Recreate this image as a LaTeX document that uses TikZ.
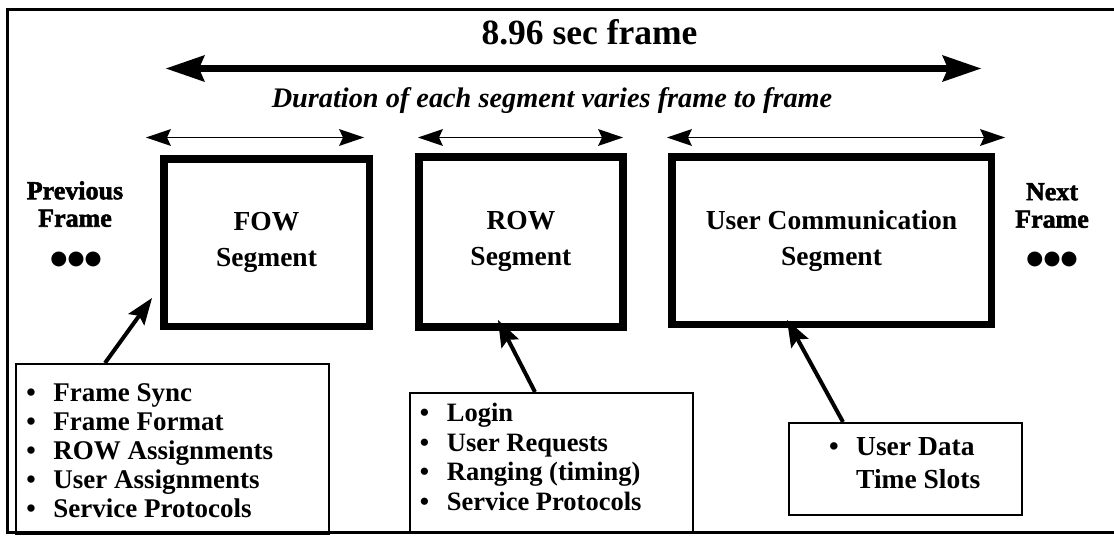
\documentclass[tikz,border=0pt]{standalone}
\usepackage{fontspec}
\setmainfont{Liberation Serif}
\newfontfamily\heavyfont{Liberation Serif}[BoldFeatures={FakeBold=2}]
\newfontfamily\dotfont{DejaVu Sans}
\usetikzlibrary{arrows.meta,calc}
\tikzset{
  seg/.style={draw, line width=7.5pt, inner sep=0pt, align=center,
    font=\bfseries\fontsize{27.5}{36}\selectfont},
  listbox/.style={draw, line width=1.5pt, inner sep=0pt, anchor=north west},
  listtext/.style={inner sep=0pt, align=left, anchor=north west},
  ptr/.style={line width=4pt, -{Stealth[length=27pt, width=20pt, inset=5pt, line width=0pt]}},
  dimsmall/.style={line width=1.8pt,
    {Stealth[length=25pt, width=17pt, inset=4pt, line width=0pt]}-{Stealth[length=25pt, width=17pt, inset=4pt, line width=0pt]}},
  dimbig/.style={line width=7pt,
    {Stealth[length=39pt, width=27pt, inset=6pt, line width=0pt]}-{Stealth[length=39pt, width=27pt, inset=6pt, line width=0pt]}},
  frametext/.style={inner sep=0pt, align=center, anchor=north,
    font=\heavyfont\bfseries\fontsize{26}{27.5}\selectfont},
  dots/.style={inner sep=0pt, font=\dotfont\fontsize{19.5}{19.5}\selectfont},
}
\newcommand{\itm}[1]{\makebox[27pt][l]{\textbullet}#1}
\begin{document}
\begin{tikzpicture}[x=1pt,y=-1pt]
\useasboundingbox (0,0) rectangle (1114,536);
% outer frame
\draw[line width=2.5pt] (1114,9.5) -- (7.5,9.5) -- (7.5,532.5) -- (1114,532.5);

% title and overall frame arrow
\node[inner sep=0pt, anchor=base, font=\bfseries\fontsize{35.5}{40}\selectfont] (title) at (589.5,44) {8.96 sec frame};
\coordinate (bigL) at (166,68.5);
\coordinate (bigR) at (981,68.5);
\draw[dimbig] (bigL) -- (bigR);
\node[inner sep=0pt, anchor=base, font=\bfseries\itshape\fontsize{28.3}{32}\selectfont] (sub) at (552,107) {Duration of each segment varies frame to frame};

% segments
\node[seg, minimum width=205.5pt, minimum height=167.5pt] (fow) at (266.5,242.5) {FOW\\Segment};
\node[seg, minimum width=204.25pt, minimum height=170.25pt] (row) at (520.9,241.9) {ROW\\Segment};
\node[seg, minimum width=319.5pt, minimum height=167.5pt] (ucs) at (831.5,240.5) {User Communication\\Segment};

% segment duration arrows
\coordinate (s1l) at (146,137.5); \coordinate (s1r) at (364,137.5);
\coordinate (s2l) at (418,137.5); \coordinate (s2r) at (623,137.5);
\coordinate (s3l) at (667,137.5); \coordinate (s3r) at (1005,137.5);
\draw[dimsmall] (s1l) -- (s1r);
\draw[dimsmall] (s2l) -- (s2r);
\draw[dimsmall] (s3l) -- (s3r);

% previous / next frame
\node[frametext] (prev) at (75,181) {Previous\\Frame};
\node[dots] (prevdots) at (76,259) {●●●};
\node[frametext] (next) at (1052,183) {Next\\Frame};
\node[dots] (nextdots) at (1052,259) {●●●};

% lists
\node[listbox, minimum width=313pt, minimum height=170pt] (lbox) at (15,363) {};
\node[listtext, font=\bfseries\fontsize{27}{29.2}\selectfont] (ltxt) at (26.3,383)
  {\itm{Frame Sync}\\ \itm{Frame Format}\\ \itm{ROW Assignments}\\ \itm{User Assignments}\\ \itm{Service Protocols}};
\node[listbox, minimum width=283pt, minimum height=139pt] (mbox) at (409,392) {};
\node[listtext, font=\bfseries\fontsize{26.5}{29.7}\selectfont] (mtxt) at (419.7,403)
  {\itm{Login}\\ \itm{User Requests}\\ \itm{Ranging (timing)}\\ \itm{Service Protocols}};
\node[listbox, minimum width=233pt, minimum height=92pt] (rbox) at (788,422) {};
\node[listtext, font=\bfseries\fontsize{27.5}{33}\selectfont] (rtxt) at (829,437)
  {\itm{User Data}\\ \hspace*{27pt}Time Slots};

% pointers
\coordinate (fowtip) at (152,298);
\coordinate (rowtip) at (498,320);
\coordinate (ucstip) at (787,320);
\draw[ptr] (lbox.north -| 105,0) -- (fowtip);
\draw[ptr] (mbox.north -| 535,0) -- (rowtip);
\draw[ptr] (rbox.north -| 843,0) -- (ucstip);
\end{tikzpicture}
\end{document}
